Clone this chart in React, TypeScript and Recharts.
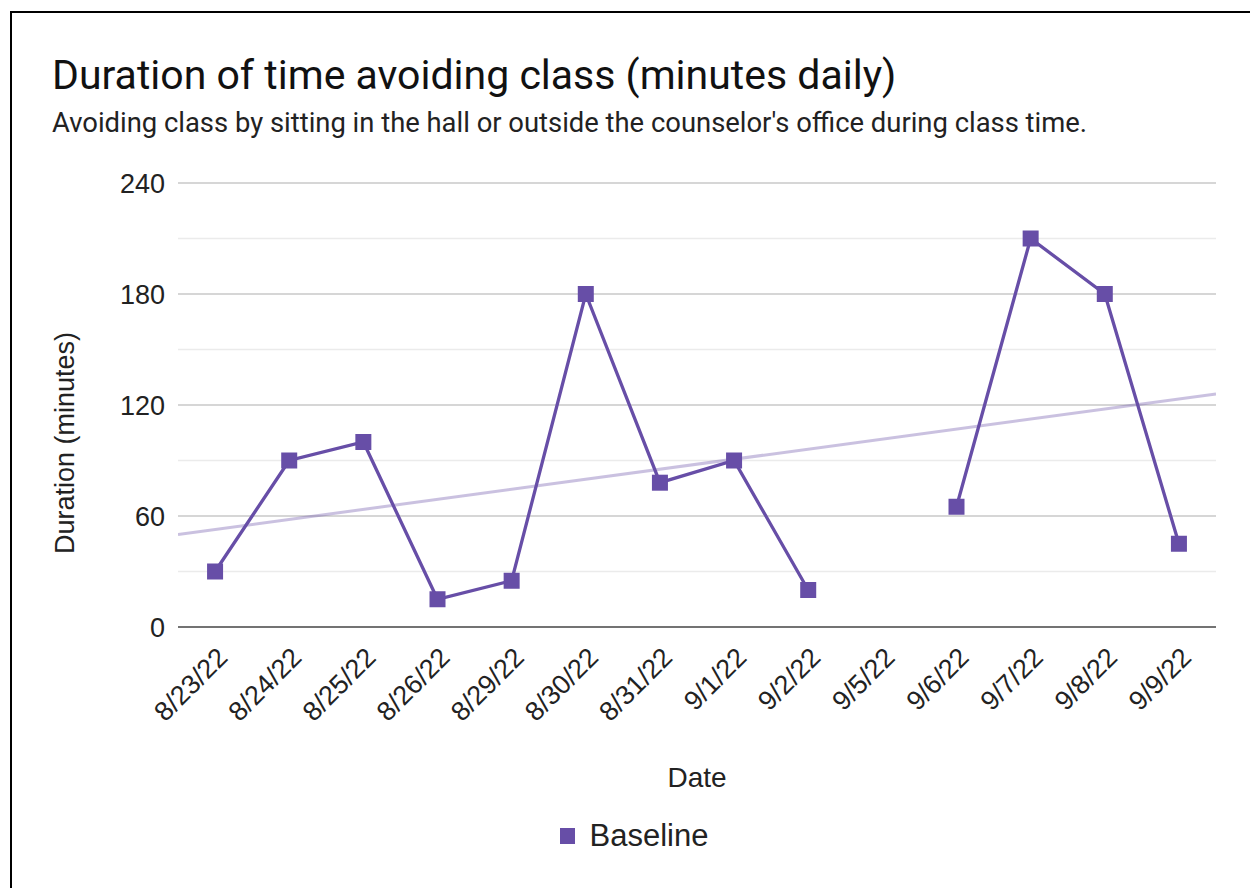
import React from 'react';
import { LineChart, Line, XAxis, YAxis, CartesianGrid, Legend } from 'recharts';

const dates = ['8/23/22', '8/24/22', '8/25/22', '8/26/22', '8/29/22', '8/30/22', '8/31/22', '9/1/22', '9/2/22', '9/5/22', '9/6/22', '9/7/22', '9/8/22', '9/9/22'];
const baselineValues: (number | null)[] = [30, 90, 100, 15, 25, 180, 78, 90, 20, null, 65, 210, 180, 45];
const trendX = [-0.5, 13.5];
const trendValues = [50, 126];
const yTicks = [0, 60, 120, 180, 240];
const minorTicks = [30, 90, 150, 210];
const majorTicks = [60, 120, 180, 240];

const data = dates.map((d, i) => ({ x: i, baseline: baselineValues[i] }));
const trendData = trendX.map((x, i) => ({ x, trend: trendValues[i] }));

const PURPLE = '#674ea7';
const AXIS_FONT = 'Arial, "Liberation Sans", sans-serif';
const TITLE_FONT = 'Roboto, Arial, sans-serif';

const Square = (props: any) => {
  const { cx, cy, value, index } = props;
  if (value == null || cx == null || cy == null) return <g key={`e${index}`} />;
  return <rect key={`s${index}`} x={cx - 8} y={cy - 8} width={16} height={16} fill={PURPLE} />;
};

const XTick = (props: any) => {
  const { x, y, payload } = props;
  const ax = x + 14;
  const ay = y + 32;
  return (
    <text x={ax} y={ay} transform={`rotate(-45, ${ax}, ${ay})`} textAnchor="end" fontSize={27} fontFamily={AXIS_FONT} fill="#222">
      {dates[payload.value]}
    </text>
  );
};

const DateLabel = (props: any) => {
  const { viewBox } = props;
  return (
    <text x={viewBox.x + viewBox.width / 2} y={viewBox.y + 160} textAnchor="middle" fontSize={28} fontFamily={AXIS_FONT} fill="#222">
      Date
    </text>
  );
};

const YLabel = (props: any) => {
  const { viewBox } = props;
  const cx = 74;
  const cy = viewBox.y + viewBox.height / 2 + 38;
  return (
    <text x={cx} y={cy} transform={`rotate(-90, ${cx}, ${cy})`} textAnchor="middle" fontSize={27} fontFamily={AXIS_FONT} fill="#222">
      Duration (minutes)
    </text>
  );
};

const LegendContent = () => (
  <div style={{ display: 'flex', justifyContent: 'center', alignItems: 'center', width: 1250, height: 34 }}>
    <div style={{ position: 'relative', left: 9, display: 'flex', alignItems: 'center' }}>
      <span style={{ display: 'inline-block', width: 15, height: 16, background: PURPLE, marginRight: 15 }} />
      <span style={{ fontFamily: AXIS_FONT, fontSize: 31, color: '#222' }}>Baseline</span>
    </div>
  </div>
);

export default function App() {
  return (
    <div style={{ position: 'absolute', left: 0, top: 0, width: 1250, height: 888, overflow: 'hidden', background: '#fff' }}>
      <div style={{ position: 'absolute', left: 10, top: 11, width: 1300, height: 1000, border: '2px solid #000', boxSizing: 'border-box' }} />
      <svg style={{ position: 'absolute', left: 0, top: 0 }} width={1250} height={150}>
        <text x={52} y={89} fontSize={41} fontFamily={TITLE_FONT} fill="#111">Duration of time avoiding class (minutes daily)</text>
        <text x={52} y={132} fontSize={27.4} fontFamily={TITLE_FONT} fill="#222">Avoiding class by sitting in the hall or outside the counselor's office during class time.</text>
      </svg>
      <div style={{ position: 'absolute', left: 0, top: 0 }}>
        <LineChart width={1250} height={888} data={data} margin={{ top: 183, right: 34, left: 0, bottom: 0 }}>
          <CartesianGrid vertical={false} horizontalValues={minorTicks} stroke="#ebebeb" strokeWidth={1.5} />
          <CartesianGrid vertical={false} horizontalValues={majorTicks} stroke="#c8c8c8" strokeWidth={1.5} />
          <XAxis
            dataKey="x"
            type="number"
            domain={[-0.5, 13.5]}
            ticks={dates.map((_, i) => i)}
            interval={0}
            height={261}
            tickSize={0}
            tickMargin={0}
            tick={<XTick />}
            axisLine={{ stroke: '#444', strokeWidth: 1.5 }}
            tickLine={false}
            allowDataOverflow
            label={<DateLabel />}
          />
          <YAxis
            type="number"
            domain={[0, 240]}
            ticks={yTicks}
            width={178}
            tickSize={0}
            tickMargin={13}
            axisLine={false}
            tickLine={false}
            tick={{ fontSize: 27, fontFamily: AXIS_FONT, fill: '#222' }}
            label={<YLabel />}
          />
          <Legend layout="horizontal" verticalAlign="middle" align="center" wrapperStyle={{ top: 819, left: 0, width: 1250 }} content={<LegendContent />} />
          <Line data={trendData} dataKey="trend" type="linear" stroke={PURPLE} strokeOpacity={0.35} strokeWidth={3} dot={false} activeDot={false} legendType="none" isAnimationActive={false} />
          <Line dataKey="baseline" type="linear" stroke={PURPLE} strokeWidth={3.3} dot={<Square />} activeDot={false} connectNulls={false} isAnimationActive={false} />
        </LineChart>
      </div>
    </div>
  );
}
